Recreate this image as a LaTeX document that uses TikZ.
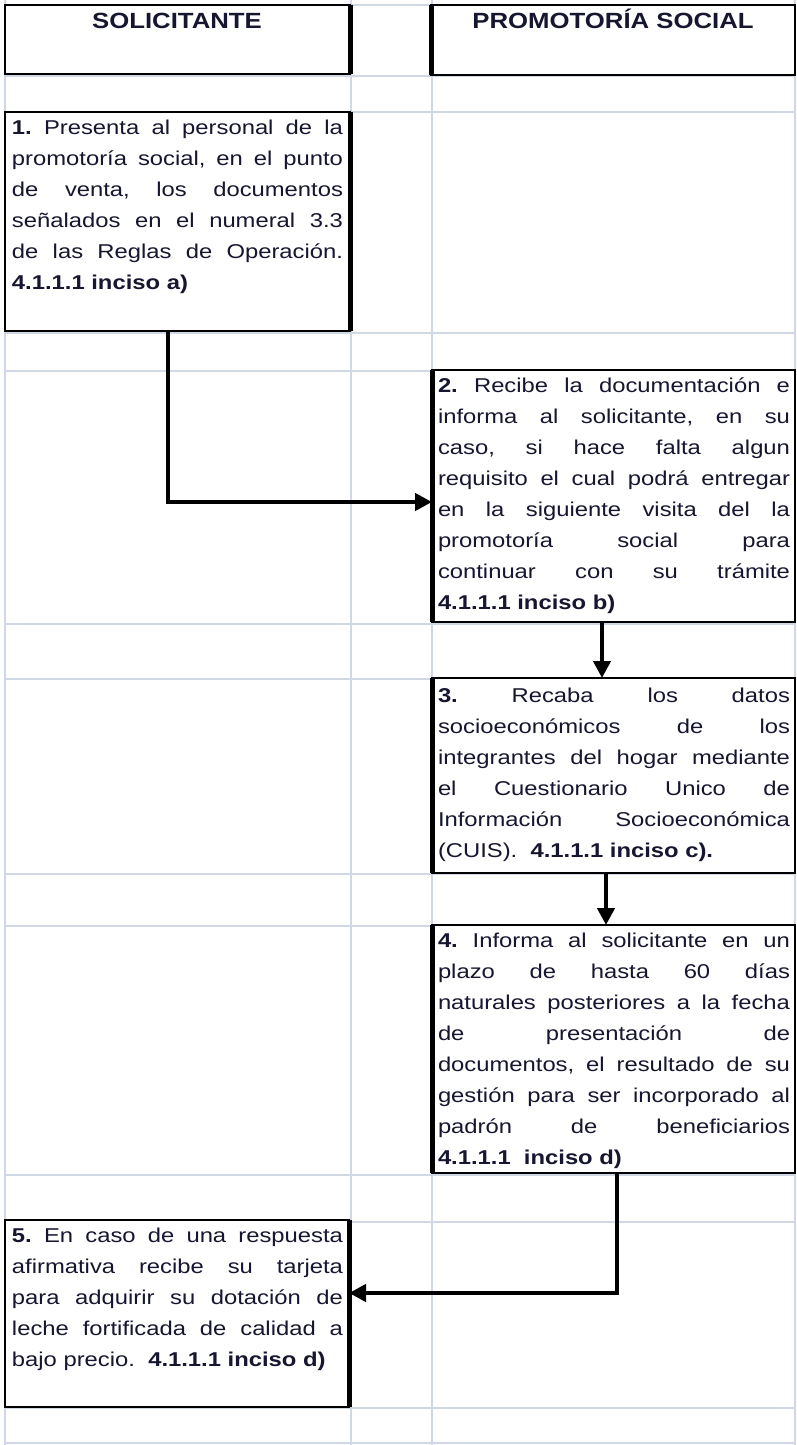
\documentclass[tikz,border=0pt]{standalone}
\usepackage{fontspec}
\usetikzlibrary{arrows.meta,calc}
\newfontfamily\bodyf[FakeStretch=1.19]{Liberation Sans}
\newfontfamily\headf[FakeStretch=1.17]{Liberation Sans}
\definecolor{gridc}{RGB}{208,215,229}
\definecolor{txtc}{RGB}{22,22,48}
\newcommand\jl[1]{\makebox[\linewidth][s]{#1}}
\newcommand\btext[2]{\parbox[t]{#1}{\leavevmode\bodyf\fontsize{20}{31.1}\selectfont\frenchspacing#2}}
\begin{document}
\begin{tikzpicture}[x=1pt,y=-1pt,
  grid/.style={gridc,line width=2pt},
  box/.style={draw=black,line width=2.5pt,fill=white,inner sep=0pt,outer sep=0pt,anchor=north west},
  heavy/.style={line width=5pt},
  conn/.style={line width=4.5pt},
  arr/.style={conn,-{Triangle[length=17pt,width=17pt]}},
  tx/.style={anchor=base west,inner sep=0pt,outer sep=0pt,text=txtc},
  hd/.style={anchor=base,inner sep=0pt,font=\headf\bfseries\fontsize{22}{26}\selectfont,text=txtc}]
\useasboundingbox (0,0) rectangle (797,1445);
\fill[white] (0,0) rectangle (797,1445);
% spreadsheet grid
\foreach \gx in {5,351,432,795} \draw[grid] (\gx,0) -- (\gx,1445);
\foreach \gy in {5,76,112,333,371,624,679,874,926,1175,1222,1408,1443} \draw[grid] (5,\gy) -- (795,\gy);
% headers
\node[box,minimum width=345pt,minimum height=69pt] (h1) at (5,5) {};
\node[box,minimum width=364pt,minimum height=70pt] (h2) at (431,5) {};
\draw[heavy] (h1.north east) -- (h1.south east);
\draw[heavy] (h2.north west) -- (h2.south west);
\node[hd] (h1t) at (177,29) {SOLICITANTE};
\node[hd] (h2t) at (613,29) {PROMOTORÍA SOCIAL};
% step boxes
\node[box,minimum width=345pt,minimum height=219pt] (b1) at (5,112) {};
\node[box,minimum width=363pt,minimum height=252pt] (b2) at (432,370) {};
\node[box,minimum width=363pt,minimum height=195pt] (b3) at (432,678) {};
\node[box,minimum width=363pt,minimum height=248pt] (b4) at (432,925) {};
\node[box,minimum width=344pt,minimum height=187pt] (b5) at (5,1220) {};
\draw[heavy] (b1.north east) -- (b1.south east);
\draw[heavy] (b2.north west) -- (b2.south west);
\draw[heavy] (b3.north west) -- (b3.south west);
\draw[heavy] (b4.north west) -- (b4.south west);
\draw[heavy] (b5.north east) -- (b5.south east);
% texts
\node[tx] (t1) at (12,134) {\btext{331pt}{%
\jl{\textbf{1.} Presenta al personal de la}\\
\jl{promotoría social, en el punto}\\
\jl{de venta, los documentos}\\
\jl{señalados en el numeral 3.3}\\
\jl{de las Reglas de Operación.}\\
\textbf{4.1.1.1 inciso a)}}};
\node[tx] (t2) at (438,392) {\btext{352pt}{%
\jl{\textbf{2.} Recibe la documentación e}\\
\jl{informa al solicitante, en su}\\
\jl{caso, si hace falta algun}\\
\jl{requisito el cual podrá entregar}\\
\jl{en la siguiente visita del la}\\
\jl{promotoría social para}\\
\jl{continuar con su trámite}\\
\textbf{4.1.1.1 inciso b)}}};
\node[tx] (t3) at (438,702) {\btext{352pt}{%
\jl{\textbf{3.} Recaba los datos}\\
\jl{socioeconómicos de los}\\
\jl{integrantes del hogar mediante}\\
\jl{el Cuestionario Unico de}\\
\jl{Información Socioeconómica}\\
(CUIS).\ \ \textbf{4.1.1.1 inciso c).}}};
\node[tx] (t4) at (438,947) {\btext{352pt}{%
\jl{\textbf{4.} Informa al solicitante en un}\\
\jl{plazo de hasta 60 días}\\
\jl{naturales posteriores a la fecha}\\
\jl{de presentación de}\\
\jl{documentos, el resultado de su}\\
\jl{gestión para ser incorporado al}\\
\jl{padrón de beneficiarios}\\
\textbf{4.1.1.1\ \ inciso d)}}};
\node[tx] (t5) at (12,1242) {\btext{331pt}{%
\jl{\textbf{5.} En caso de una respuesta}\\
\jl{afirmativa recibe su tarjeta}\\
\jl{para adquirir su dotación de}\\
\jl{leche fortificada de calidad a}\\
bajo precio.\ \ \textbf{4.1.1.1 inciso d)}}};
% connectors
\coordinate (k1) at (168,502);
\draw[arr] (b1.south -| k1) -- (k1) -- (k1 -| b2.west);
\coordinate (k2) at (602,650);
\draw[arr] (b2.south -| k2) -- (b3.north -| k2);
\coordinate (k3) at (606,900);
\draw[arr] (b3.south -| k3) -- (b4.north -| k3);
\coordinate (k4) at (617,1293);
\draw[arr] (b4.south -| k4) -- (k4) -- (k4 -| b5.east);
\end{tikzpicture}
\end{document}
